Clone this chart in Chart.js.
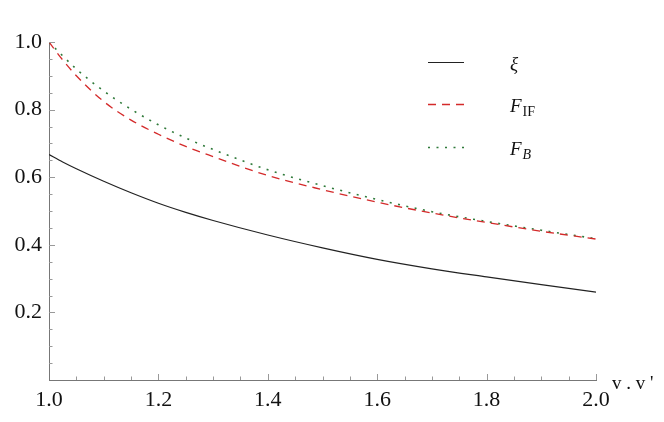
<!DOCTYPE html>
<html>
<head>
<meta charset="utf-8">
<script src="https://cdn.jsdelivr.net/npm/chart.js@4"></script>
<style>
  body { margin: 0; background: #fff; }
  canvas { display: block; }
</style>
</head>
<body>
<canvas id="plot" width="664" height="422"></canvas>
<script>
// values
var vVals  = [1.0, 1.025, 1.05, 1.1, 1.15, 1.2, 1.25, 1.3, 1.4, 1.5, 1.6, 1.7, 1.8, 1.9, 2.0];
var xiVals = [0.667, 0.645, 0.625, 0.588, 0.554, 0.523, 0.496, 0.472, 0.429, 0.391, 0.357, 0.329, 0.305, 0.282, 0.260];
var fifVals = [1.0, 0.947, 0.900, 0.824, 0.769, 0.727, 0.691, 0.661, 0.605, 0.563, 0.526, 0.494, 0.466, 0.440, 0.417];
var fbVals  = [1.0, 0.959, 0.920, 0.855, 0.801, 0.755, 0.716, 0.682, 0.622, 0.575, 0.534, 0.498, 0.469, 0.443, 0.418];
var xTicks = [1.0, 1.2, 1.4, 1.6, 1.8, 2.0];
var yTicks = [0.2, 0.4, 0.6, 0.8, 1.0];

var SERIF = 'Liberation Serif';

function pts(ys) {
  return vVals.map(function(v, i) { return { x: v, y: ys[i] }; });
}

// inward major / minor ticks, legend and axis label
var decor = {
  id: 'decor',
  afterDatasetsDraw: function(chart) {
    var ctx = chart.ctx;
    var xs = chart.scales.x, ys = chart.scales.y;
    var a = chart.chartArea;
    ctx.save();
    ctx.strokeStyle = '#999';
    ctx.lineWidth = 1;
    for (var k = 1; k <= 20; k++) {
      var py = Math.round(ys.getPixelForValue(k * 0.05)) + 0.5;
      var len = (k % 4 === 0) ? 6 : 3.5;
      ctx.beginPath(); ctx.moveTo(a.left, py); ctx.lineTo(a.left + len, py); ctx.stroke();
    }
    for (var k = 1; k <= 20; k++) {
      var px = Math.round(xs.getPixelForValue(1 + k * 0.05)) + 0.5;
      var len = (k % 4 === 0) ? 6 : 3.5;
      ctx.beginPath(); ctx.moveTo(px, a.bottom); ctx.lineTo(px, a.bottom - len); ctx.stroke();
    }

    // axis label
    ctx.fillStyle = '#111';
    ctx.font = '19px ' + SERIF;
    ctx.textBaseline = 'alphabetic';
    ctx.textAlign = 'left';
    ctx.fillText("v . v '", 612, 388.5);

    // legend
    var rows = [
      { y: 62, main: '\u03be', sub: '' },
      { y: 104, main: 'F', sub: 'IF', subItalic: false },
      { y: 147, main: 'F', sub: 'B', subItalic: true }
    ];
    rows.forEach(function(r, i) {
      var ds = chart.data.datasets[i];
      ctx.strokeStyle = ds.borderColor;
      ctx.lineWidth = ds.borderWidth;
      ctx.setLineDash(ds.borderDash || []);
      ctx.beginPath(); ctx.moveTo(428, r.y + 0.5); ctx.lineTo(464, r.y + 0.5); ctx.stroke();
      ctx.setLineDash([]);
      ctx.fillStyle = '#111';
      ctx.font = 'italic 19px ' + SERIF;
      ctx.fillText(r.main, 510, r.y + 7.5);
      if (r.sub) {
        var w = ctx.measureText(r.main).width;
        ctx.font = (r.subItalic ? 'italic ' : '') + '14px ' + SERIF;
        ctx.fillText(r.sub, 510 + w + 1, r.y + 12);
      }
    });
    ctx.restore();
  }
};

var config = {
  type: 'line',
  data: {
    datasets: [{
      label: 'xi',
      data: pts(xiVals),
      borderColor: '#222',
      borderWidth: 1.2
    }, {
      label: 'F_IF',
      data: pts(fifVals),
      borderColor: '#d42a2a',
      borderWidth: 1.3,
      borderDash: [8, 6]
    }, {
      label: 'F_B',
      data: pts(fbVals),
      borderColor: '#2f7a3a',
      borderWidth: 1.6,
      borderDash: [2, 6.5]
    }]
  },
  options: {
    responsive: false,
    animation: false,
    layout: { padding: { top: 42, right: 68, left: 0, bottom: 0 } },
    elements: { point: { radius: 0 }, line: { cubicInterpolationMode: 'monotone', fill: false } },
    plugins: { legend: { display: false }, tooltip: { enabled: false } },
    scales: {
      x: {
        type: 'linear',
        min: 1, max: 2,
        afterFit: function(s) { s.height = 42; },
        afterBuildTicks: function(s) { s.ticks = xTicks.map(function(v) { return { value: v }; }); },
        grid: { drawOnChartArea: false, drawTicks: false },
        border: { color: '#777', width: 1 },
        ticks: {
          padding: 7,
          maxRotation: 0,
          color: '#111',
          font: { family: SERIF, size: 22 },
          callback: function(v) { return v.toFixed(1); }
        }
      },
      y: {
        min: 0, max: 1,
        afterFit: function(s) { s.width = 49; },
        afterBuildTicks: function(s) { s.ticks = yTicks.map(function(v) { return { value: v }; }); },
        grid: { drawOnChartArea: false, drawTicks: false },
        border: { color: '#777', width: 1 },
        ticks: {
          padding: 7,
          color: '#111',
          font: { family: SERIF, size: 22 },
          callback: function(v) { return v.toFixed(1); }
        }
      }
    }
  },
  plugins: [decor]
};

window.onload = function() {
  var ctx = document.getElementById('plot').getContext('2d');
  window.myPlot = new Chart(ctx, config);
};
</script>
</body>
</html>
